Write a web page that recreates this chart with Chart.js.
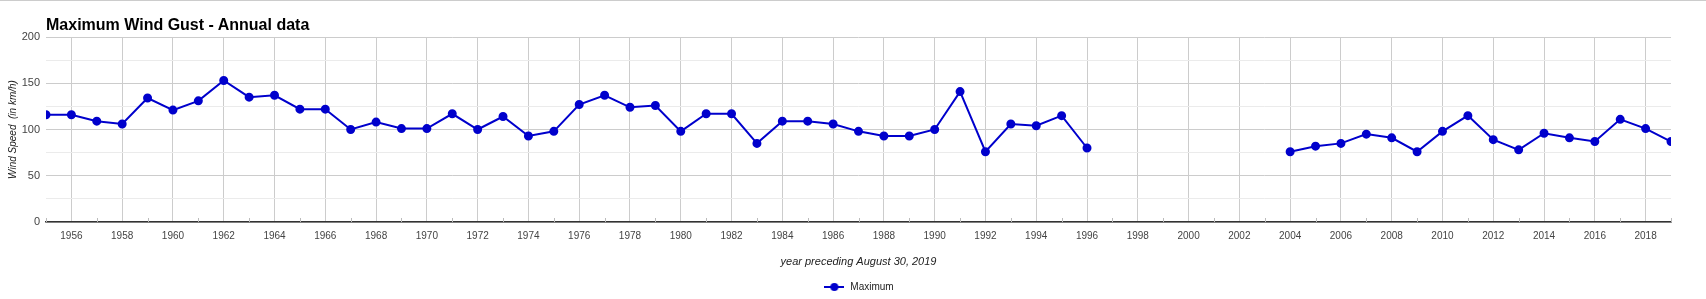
<!DOCTYPE html>
<html>
<head>
<meta charset="utf-8">
<script src="https://cdn.jsdelivr.net/npm/chart.js@4/dist/chart.umd.min.js"></script>
<style>
  body { margin: 0; background: #fff; font-family: Arial, "Liberation Sans", sans-serif; }
  #wrap { position: relative; width: 1706px; height: 299px; border-top: 1px solid #ccc; box-sizing: border-box; }
  #title { position: absolute; left: 46px; top: 15px; font-size: 16px; font-weight: bold; color: #000; }
  canvas { position: absolute; left: 0; top: 0; }
</style>
</head>
<body>
<div id="wrap">
  <canvas id="gust" width="1706" height="298"></canvas>
  <div id="title">Maximum Wind Gust - Annual data</div>
</div>
<script>
// annual maximum gust, km/h (null = no data)
const years = [];
for (let y = 1955; y <= 2019; y++) years.push(y);
const gustMax = [
  116, 116, 109, 106, 134, 121, 131, 153, 135, 137,   // 1955-1964
  122, 122, 100, 108, 101, 101, 117, 100, 114, 93,    // 1965-1974
  98, 127, 137, 124, 126, 98, 117, 117, 85, 109,      // 1975-1984
  109, 106, 98, 93, 93, 100, 141, 76, 106, 104,       // 1985-1994
  115, 80, null, null, null, null, null, null, null, 76, // 1995-2004
  82, 85, 95, 91, 76, 98, 115, 89, 78, 96,            // 2005-2014
  91, 87, 111, 101, 87                                // 2015-2019
];
const yTicks = [0, 50, 100, 150, 200];

const LINE = '#0000cc';
const FONT = 'Arial, "Liberation Sans", sans-serif';

// legend marker: line with a dot in the middle
function legendMarker() {
  const c = document.createElement('canvas');
  c.width = 20; c.height = 10;
  const g = c.getContext('2d');
  g.strokeStyle = LINE; g.lineWidth = 2;
  g.beginPath(); g.moveTo(0, 5); g.lineTo(20, 5); g.stroke();
  g.fillStyle = LINE;
  g.beginPath(); g.arc(10, 5, 4, 0, Math.PI * 2); g.fill();
  return c;
}

// short inward ticks for odd years
const minorTicks = {
  id: 'minorTicks',
  afterDatasetsDraw(chart) {
    const xs = chart.scales.x, ctx = chart.ctx;
    const bottom = chart.chartArea.bottom;
    ctx.save();
    ctx.strokeStyle = '#bbb'; ctx.lineWidth = 1;
    years.forEach(y => {
      if (y % 2 === 0) return;
      const px = Math.round(xs.getPixelForValue(y)) + 0.5;
      ctx.beginPath(); ctx.moveTo(px, bottom); ctx.lineTo(px, bottom - 4); ctx.stroke();
    });
    ctx.restore();
  }
};

new Chart(document.getElementById('gust').getContext('2d'), {
  type: 'line',
  data: {
    datasets: [{
      label: 'Maximum',
      data: years.map((y, i) => ({ x: y, y: gustMax[i] })),
      borderColor: LINE, backgroundColor: LINE,
      borderWidth: 2, pointRadius: 3.5, pointHoverRadius: 4,
      tension: 0, spanGaps: false
    }]
  },
  options: {
    responsive: false, animation: false,
    layout: { padding: { left: 0, right: 35, top: 36, bottom: -3 } },
    plugins: {
      legend: {
        position: 'bottom', fullSize: false,
        labels: {
          color: '#222', font: { family: FONT, size: 10 },
          usePointStyle: true, pointStyleWidth: 22, boxHeight: 10, padding: 1,
          generateLabels(chart) {
            return [{ text: 'Maximum', pointStyle: legendMarker(), fontColor: '#222', datasetIndex: 0, lineWidth: 0 }];
          }
        }
      },
      tooltip: { enabled: false }
    },
    scales: {
      x: {
        type: 'linear', min: 1955, max: 2019,
        afterBuildTicks(s) { s.ticks = years.map(v => ({ value: v })); },
        ticks: {
          autoSkip: false, maxRotation: 0, color: '#444', padding: 8,
          font: { family: FONT, size: 10 },
          callback: v => (v % 2 === 0 ? String(v) : '')
        },
        grid: {
          color: c => (c.tick && c.tick.value % 2 === 0 ? '#ccc' : 'rgba(0,0,0,0)'),
          drawTicks: false
        },
        border: { display: true, color: '#333', width: 1.5 },
        title: {
          display: true, text: 'year preceding August 30, 2019',
          color: '#222', font: { family: FONT, size: 11, style: 'italic' }, padding: { top: 10, bottom: 12 }
        },
        afterFit(s) { s.height = 59; }
      },
      y: {
        min: 0, max: 200,
        ticks: {
          stepSize: 25, color: '#444', padding: 6,
          font: { family: FONT, size: 11 },
          callback: v => (yTicks.includes(v) ? String(v) : '')
        },
        grid: {
          color: c => (c.tick && c.tick.value % 50 === 0 ? '#ccc' : '#ebebeb'),
          drawTicks: false
        },
        border: { display: false },
        title: {
          display: true, text: 'Wind Speed  (in km/h)',
          color: '#222', font: { family: FONT, size: 10, style: 'italic' }, padding: { top: 7, bottom: 0 }
        },
        afterFit(s) { s.width = 46; }
      }
    }
  },
  plugins: [minorTicks]
});
</script>
</body>
</html>
